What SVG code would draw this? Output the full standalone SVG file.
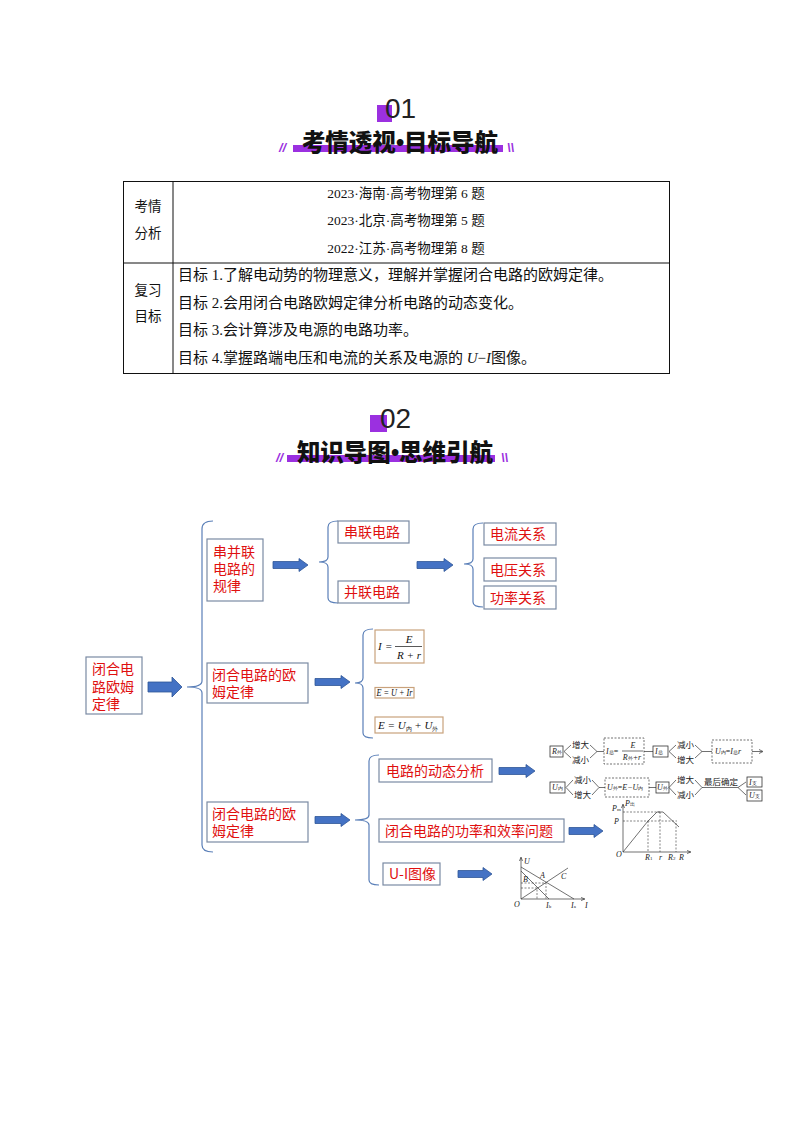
<svg xmlns="http://www.w3.org/2000/svg" width="794" height="1123" viewBox="0 0 794 1123">
<defs>
<style>
.hd{font-family:"Liberation Sans","Noto Sans CJK SC",sans-serif;font-size:28px;fill:#222}
.ttl{font-family:"Noto Sans CJK SC",sans-serif;font-size:23.5px;font-weight:900;fill:#111}
.dot{font-family:"Liberation Sans",sans-serif;font-weight:bold}
.slash{font-family:"Liberation Sans",sans-serif;font-size:13px;fill:#9b30e0;font-style:italic;font-weight:bold}
.tb{font-family:"Liberation Serif","Noto Sans CJK SC",serif;font-size:13.5px;fill:#111}
.tg{font-family:"Liberation Serif","Noto Sans CJK SC",serif;font-size:15px;fill:#111}
.bx{fill:#fff;stroke:#7a8aa3;stroke-width:1.2}
.rt{font-family:"Noto Sans CJK SC",sans-serif;font-size:14px;fill:#e01010}
.br{fill:none;stroke:#5a7fb8;stroke-width:1.2}
.ar{fill:#4472c4;stroke:#2f5597;stroke-width:0.8}
.fb{fill:#fff;stroke:#c9a27c;stroke-width:1.2}
.fm{font-family:"Liberation Serif",serif;font-size:11px;font-style:italic;fill:#111}
.sm{font-family:"Liberation Serif","Noto Sans CJK SC",serif;font-size:8.5px;fill:#222}
.smi{font-family:"Liberation Serif",serif;font-size:8px;font-style:italic;fill:#222}
.ln{fill:none;stroke:#333;stroke-width:0.7}
.dl{fill:none;stroke:#333;stroke-width:0.6;stroke-dasharray:2 1.5}
.db{fill:#fff;stroke:#333;stroke-width:0.7;stroke-dasharray:2 1.5}
.sb{fill:#fff;stroke:#333;stroke-width:0.8}
</style>
</defs>

<!-- Header 01 -->
<g id="header01">
<rect x="377" y="105" width="15" height="17" fill="#9b30e0"/>
<text x="385" y="118" class="hd">01</text>
<rect x="293" y="145" width="210" height="7" fill="#9b30e0"/>
<text x="400" y="151" class="ttl" text-anchor="middle">考情透视<tspan class="dot">•</tspan>目标导航</text>
<text x="279" y="152" class="slash">//</text>
<text x="507" y="152" class="slash">\\</text>
</g>

<!-- Table -->
<g id="table">
<rect x="123.5" y="181.5" width="546" height="192" fill="none" stroke="#111" stroke-width="1"/>
<line x1="173" y1="181.5" x2="173" y2="373.5" stroke="#111" stroke-width="1"/>
<line x1="123.5" y1="263" x2="669.5" y2="263" stroke="#111" stroke-width="1"/>
<text x="148" y="211" class="tb" text-anchor="middle">考情</text>
<text x="148" y="238" class="tb" text-anchor="middle">分析</text>
<text x="148" y="295" class="tb" text-anchor="middle">复习</text>
<text x="148" y="321" class="tb" text-anchor="middle">目标</text>
<text x="406" y="198" class="tb" text-anchor="middle">2023·海南·高考物理第 6 题</text>
<text x="406" y="225" class="tb" text-anchor="middle">2023·北京·高考物理第 5 题</text>
<text x="406" y="253" class="tb" text-anchor="middle">2022·江苏·高考物理第 8 题</text>
<text x="178" y="280" class="tg">目标 1.了解电动势的物理意义，理解并掌握闭合电路的欧姆定律。</text>
<text x="178" y="308" class="tg">目标 2.会用闭合电路欧姆定律分析电路的动态变化。</text>
<text x="178" y="335" class="tg">目标 3.会计算涉及电源的电路功率。</text>
<text x="178" y="363" class="tg">目标 4.掌握路端电压和电流的关系及电源的 <tspan font-style="italic">U</tspan>−<tspan font-style="italic">I</tspan>图像。</text>
</g>

<!-- Header 02 -->
<g id="header02">
<rect x="370" y="415" width="17" height="17" fill="#9b30e0"/>
<text x="380" y="428" class="hd">02</text>
<rect x="287" y="455" width="208" height="7" fill="#9b30e0"/>
<text x="395" y="461" class="ttl" text-anchor="middle">知识导图<tspan class="dot">•</tspan>思维引航</text>
<text x="276" y="462" class="slash">//</text>
<text x="501" y="462" class="slash">\\</text>
</g>

<!-- Connectors: braces and block arrows -->
<g id="connectors">
<path class="br" d="M213,521 Q202,521 202,529 L202,681 Q202,687 187,687 Q202,687 202,693 L202,845 Q202,852 213,852"/>
<path class="br" d="M338,521 Q328,521 328,527 L328,557 Q328,562 319,562 Q328,562 328,567 L328,598 Q328,603 338,603"/>
<path class="br" d="M483,523 Q473,523 473,529 L473,559 Q473,564 464,564 Q473,564 473,569 L473,602 Q473,607 483,607"/>
<path class="br" d="M373,629 Q363,629 363,635 L363,678 Q363,683 355,683 Q363,683 363,688 L363,733 Q363,738 373,738"/>
<path class="br" d="M379,755 Q369,755 369,761 L369,815 Q369,820 355,820 Q369,820 369,825 L369,880 Q369,885 379,885"/>
<path class="ar" d="M148,682 L172,682 L172,677 L182,687 L172,697 L172,692 L148,692 Z"/>
<path class="ar" d="M273,561.5 L299,561.5 L299,558.5 L308,565 L299,571.5 L299,568.5 L273,568.5 Z"/>
<path class="ar" d="M417,561.5 L444,561.5 L444,558.5 L453,565 L444,571.5 L444,568.5 L417,568.5 Z"/>
<path class="ar" d="M315,678.5 L341,678.5 L341,675.5 L350,682 L341,688.5 L341,685.5 L315,685.5 Z"/>
<path class="ar" d="M315,816.5 L341,816.5 L341,813.5 L350,820 L341,826.5 L341,823.5 L315,823.5 Z"/>
<path class="ar" d="M499,767.5 L526,767.5 L526,764.5 L535,771 L526,777.5 L526,774.5 L499,774.5 Z"/>
<path class="ar" d="M569,827.5 L594,827.5 L594,824.5 L603,831 L594,837.5 L594,834.5 L569,834.5 Z"/>
<path class="ar" d="M458,870.5 L483,870.5 L483,867.5 L492,874 L483,880.5 L483,877.5 L458,877.5 Z"/>
</g>

<g id="n-main">
<rect class="bx" x="86" y="657" width="56" height="57"/>
<text class="rt"><tspan x="92" y="674">闭合电</tspan><tspan x="92" y="692">路欧姆</tspan><tspan x="92" y="709">定律</tspan></text>
</g>

<g id="n-series-parallel">
<rect class="bx" x="207" y="539" width="56" height="62"/>
<text class="rt"><tspan x="213" y="557">串并联</tspan><tspan x="213" y="574">电路的</tspan><tspan x="213" y="591">规律</tspan></text>
</g>
<g id="n-series"><rect class="bx" x="338" y="521" width="71" height="22"/><text class="rt" x="344" y="537">串联电路</text></g>
<g id="n-parallel"><rect class="bx" x="338" y="581" width="71" height="22"/><text class="rt" x="344" y="597">并联电路</text></g>
<g id="n-current"><rect class="bx" x="484" y="523" width="72" height="22"/><text class="rt" x="490" y="539">电流关系</text></g>
<g id="n-voltage"><rect class="bx" x="484" y="558" width="72" height="23"/><text class="rt" x="490" y="575">电压关系</text></g>
<g id="n-power"><rect class="bx" x="484" y="586" width="72" height="23"/><text class="rt" x="490" y="603">功率关系</text></g>

<g id="n-ohm1">
<rect class="bx" x="207" y="663" width="101" height="40"/>
<text class="rt"><tspan x="212" y="680">闭合电路的欧</tspan><tspan x="212" y="697">姆定律</tspan></text>
</g>
<g id="n-f1">
<rect class="fb" x="375" y="630" width="49" height="33"/>
<text class="fm" x="378" y="650">I</text><text class="fm" x="385" y="650" font-style="normal">=</text>
<text class="fm" x="409" y="643" text-anchor="middle">E</text>
<line x1="395" y1="646.5" x2="422" y2="646.5" stroke="#111" stroke-width="0.7"/>
<text class="fm" x="409" y="659" text-anchor="middle">R + r</text>
</g>
<g id="n-f2">
<rect class="fb" x="375" y="687.5" width="39" height="10.5"/>
<text class="fm" x="376.5" y="696" font-size="10" textLength="36" lengthAdjust="spacingAndGlyphs">E = U + Ir</text>
</g>
<g id="n-f3">
<rect class="fb" x="375" y="717" width="68" height="16"/>
<text class="fm" x="378" y="729">E = U<tspan font-size="6" font-style="normal" dy="2">内</tspan><tspan dy="-2"> + U</tspan><tspan font-size="6" font-style="normal" dy="2">外</tspan></text>
</g>

<g id="n-ohm2">
<rect class="bx" x="207" y="802" width="101" height="40"/>
<text class="rt"><tspan x="212" y="819">闭合电路的欧</tspan><tspan x="212" y="836">姆定律</tspan></text>
</g>
<g id="n-dynamic"><rect class="bx" x="379" y="759" width="113" height="23"/><text class="rt" x="386" y="776">电路的动态分析</text></g>
<g id="n-efficiency"><rect class="bx" x="379" y="819" width="185" height="23"/><text class="rt" x="385" y="836">闭合电路的功率和效率问题</text></g>
<g id="n-ui"><rect class="bx" x="383" y="863" width="57" height="22"/><text class="rt" x="389" y="879">U-I图像</text></g>

<!-- Dynamic analysis figure -->
<g id="fig-dynamic">
<rect class="sb" x="550" y="746" width="13" height="11"/>
<text class="smi" x="552" y="754">R<tspan font-size="5" font-style="normal">外</tspan></text>
<polyline class="ln" points="571,745 564,751.5 571,758"/>
<text class="sm" x="572" y="748">增大</text>
<text class="sm" x="572" y="763">减小</text>
<polyline class="ln" points="590,745 597,751.5 590,758"/>
<line class="ln" x1="597" y1="751.5" x2="604" y2="751.5"/>
<rect class="db" x="604" y="738" width="40" height="26"/>
<text class="smi" x="606" y="754">I<tspan font-size="5" font-style="normal">总</tspan><tspan font-style="normal">=</tspan></text>
<text class="smi" x="633" y="748" text-anchor="middle">E</text>
<line class="ln" x1="622" y1="751" x2="643" y2="751"/>
<text class="smi" x="632" y="760" text-anchor="middle">R<tspan font-size="5" font-style="normal">外</tspan>+r</text>
<line class="ln" x1="644" y1="751.5" x2="653" y2="751.5"/>
<rect class="sb" x="653" y="746" width="15" height="11"/>
<text class="smi" x="655" y="754">I<tspan font-size="5" font-style="normal">总</tspan></text>
<polyline class="ln" points="676,745 669,751.5 676,758"/>
<text class="sm" x="677" y="748">减小</text>
<text class="sm" x="677" y="763">增大</text>
<polyline class="ln" points="695,745 702,751.5 695,758"/>
<line class="ln" x1="702" y1="751.5" x2="712" y2="751.5"/>
<rect class="db" x="712" y="740" width="40" height="23"/>
<text class="smi" x="715" y="754">U<tspan font-size="5" font-style="normal">内</tspan><tspan font-style="normal">=</tspan>I<tspan font-size="5" font-style="normal">总</tspan>r</text>
<line class="ln" x1="752" y1="751.5" x2="762" y2="751.5"/>
<polyline class="ln" points="759,749.5 763,751.5 759,753.5"/>

<rect class="sb" x="550" y="782" width="15" height="11"/>
<text class="smi" x="552" y="790">U<tspan font-size="5" font-style="normal">内</tspan></text>
<polyline class="ln" points="573,780 566,787.5 573,795"/>
<text class="sm" x="574" y="783">减小</text>
<text class="sm" x="574" y="798">增大</text>
<polyline class="ln" points="592,780 599,787.5 592,795"/>
<line class="ln" x1="599" y1="787.5" x2="605" y2="787.5"/>
<rect class="db" x="605" y="778" width="44" height="19"/>
<text class="smi" x="607" y="790">U<tspan font-size="5" font-style="normal">外</tspan><tspan font-style="normal">=</tspan>E−U<tspan font-size="5" font-style="normal">内</tspan></text>
<line class="ln" x1="649" y1="787.5" x2="656" y2="787.5"/>
<rect class="sb" x="656" y="782" width="13" height="11"/>
<text class="smi" x="657" y="790">U<tspan font-size="5" font-style="normal">外</tspan></text>
<polyline class="ln" points="676,780 669,787.5 676,795"/>
<text class="sm" x="677" y="783">增大</text>
<text class="sm" x="677" y="798">减小</text>
<polyline class="ln" points="695,780 702,787.5 695,795"/>
<line class="ln" x1="702" y1="787.5" x2="738" y2="787.5"/>
<text class="sm" x="704" y="785">最后确定</text>
<polyline class="ln" points="746,782 738,787.5 746,795"/>
<rect class="sb" x="747" y="777" width="15" height="10"/>
<text class="smi" x="749" y="785">I<tspan font-size="5" font-style="normal">支</tspan></text>
<rect class="sb" x="747" y="790" width="15" height="11"/>
<text class="smi" x="749" y="798">U<tspan font-size="5" font-style="normal">支</tspan></text>
</g>

<!-- Power graph -->
<g id="fig-power">
<line class="ln" x1="623" y1="852" x2="623" y2="805"/>
<polyline class="ln" points="621.5,808 623,804 624.5,808"/>
<line class="ln" x1="623" y1="852" x2="690" y2="852"/>
<polyline class="ln" points="687,850.5 691,852 687,853.5"/>
<polyline class="dl" points="623,812 660,812"/>
<polyline class="dl" points="623,821 677,821"/>
<line class="dl" x1="648" y1="821" x2="648" y2="852"/>
<line class="dl" x1="660" y1="812" x2="660" y2="852"/>
<line class="dl" x1="676" y1="823" x2="676" y2="852"/>
<path class="ln" d="M623,852 L648,821 L657,812 L663,812 L679,827"/>
<text class="smi" x="612" y="811">P<tspan font-size="5" font-style="normal">m</tspan></text>
<text class="smi" x="625" y="806">P<tspan font-size="5" font-style="normal">出</tspan></text>
<text class="smi" x="614" y="824">P</text>
<text class="smi" x="616" y="857">O</text>
<text class="smi" x="645" y="860">R<tspan font-size="5" font-style="normal">1</tspan></text>
<text class="smi" x="659" y="860">r</text>
<text class="smi" x="668" y="860">R<tspan font-size="5" font-style="normal">2</tspan></text>
<text class="smi" x="679" y="860">R</text>
</g>

<!-- U-I graph -->
<g id="fig-ui">
<line class="ln" x1="521" y1="899" x2="521" y2="858"/>
<polyline class="ln" points="519.5,861 521,857 522.5,861"/>
<line class="ln" x1="521" y1="899" x2="584" y2="899"/>
<polyline class="ln" points="581,897.5 585,899 581,900.5"/>
<line class="ln" x1="521" y1="867" x2="574" y2="899"/>
<line class="ln" x1="521" y1="871" x2="549" y2="899"/>
<line class="ln" x1="521" y1="899" x2="568" y2="868"/>
<polyline class="dl" points="521,883 546,883 546,899"/>
<polyline class="dl" points="521,888 537,888 537,899"/>
<text class="smi" x="524" y="864">U</text>
<text class="smi" x="523" y="882">B</text>
<text class="smi" x="540" y="878">A</text>
<text class="smi" x="561" y="879">C</text>
<text class="smi" x="514" y="907">O</text>
<text class="smi" x="546" y="908">I<tspan font-size="5" font-style="normal">b</tspan></text>
<text class="smi" x="571" y="908">I<tspan font-size="5" font-style="normal">a</tspan></text>
<text class="smi" x="585" y="908">I</text>
</g>
</svg>
